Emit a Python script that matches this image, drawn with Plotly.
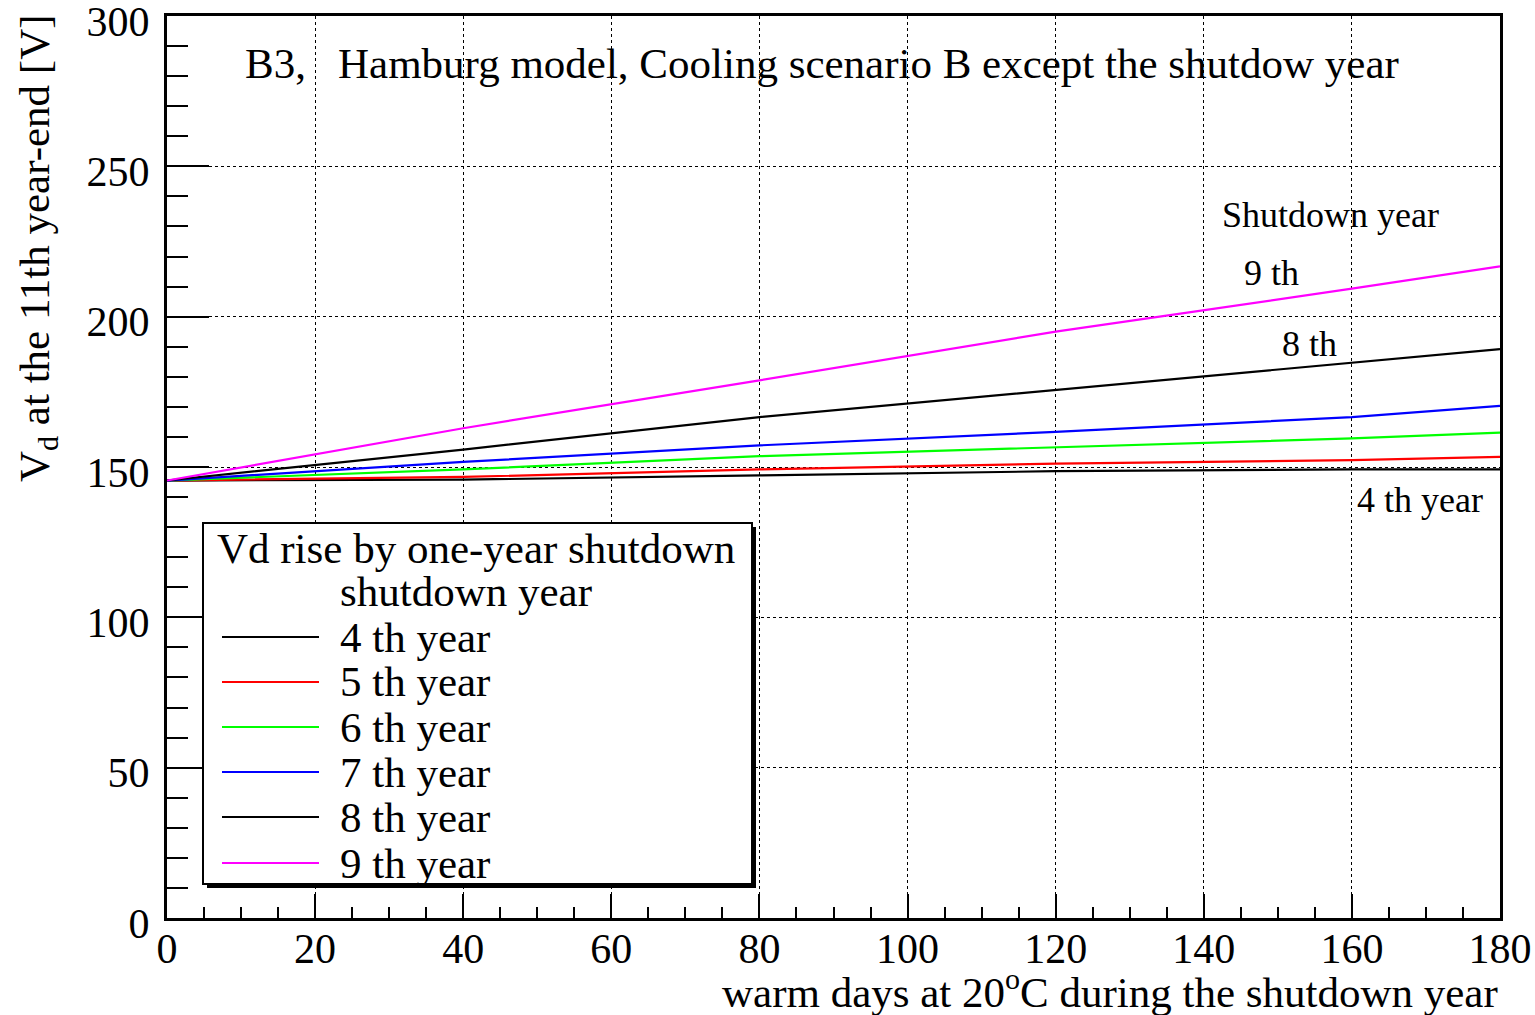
import plotly.graph_objects as go

# Depletion voltage at the end of the 11th year vs. warm days during a one-year shutdown
warm_days = [0, 40, 80, 120, 160, 180]

vd_4th = [145.5, 145.8, 147.2, 148.6, 149.2, 149.2]
vd_5th = [145.5, 146.7, 149.2, 151.1, 152.3, 153.4]
vd_6th = [145.5, 149.2, 153.6, 156.6, 159.5, 161.4]
vd_7th = [145.5, 151.7, 157.2, 161.7, 166.6, 170.3]
vd_8th = [145.5, 155.8, 166.6, 175.6, 184.7, 189.2]
vd_9th = [145.5, 162.9, 178.8, 195.0, 209.3, 216.7]

series_names = ["4 th year", "5 th year", "6 th year", "7 th year", "8 th year", "9 th year"]
series_values = [vd_4th, vd_5th, vd_6th, vd_7th, vd_8th, vd_9th]
series_colors = ["#000000", "#ff0000", "#00ff00", "#0000ff", "#000000", "#ff00ff"]

x_ticks = [0, 20, 40, 60, 80, 100, 120, 140, 160, 180]
y_ticks = [0, 50, 100, 150, 200, 250, 300]

FONT = "Liberation Serif"
W, H = 1535, 1015
ML, MR, MT, MB = 167, 35, 16, 97
PW, PH = W - ML - MR, H - MT - MB


def xp(px):
    return (px - ML) / PW


def yp(py):
    return (H - MB - py) / PH


fig = go.Figure()
for name, vals, col in zip(series_names, series_values, series_colors):
    fig.add_trace(go.Scatter(x=warm_days, y=vals, mode="lines", name=name,
                             line=dict(color=col, width=2.2), showlegend=False))

axis_common = dict(showline=True, linecolor="black", linewidth=3, mirror=True,
                   showgrid=True, gridcolor="black", griddash="dot", gridwidth=1,
                   zeroline=False, automargin=False, ticklabeloverflow="allow",
                   ticks="inside", tickcolor="black", tickwidth=2,
                   tickfont=dict(family=FONT, size=42, color="black"))

fig.update_xaxes(range=[0, 180], tickvals=x_ticks, ticktext=[str(v) for v in x_ticks],
                 ticklen=24, ticklabelstandoff=-8,
                 minor=dict(dtick=5, ticks="inside", ticklen=11,
                            tickcolor="black", tickwidth=2, showgrid=False),
                 **axis_common)
fig.update_yaxes(range=[0, 300], tickvals=y_ticks, ticktext=[str(v) for v in y_ticks],
                 ticklen=42, ticklabelstandoff=6, ticklabelshift=5,
                 minor=dict(dtick=10, ticks="inside", ticklen=21,
                            tickcolor="black", tickwidth=2, showgrid=False),
                 **axis_common)

shapes = []
annotations = []


def text(px, py, s, size, xanchor="left", yanchor="middle", angle=0):
    annotations.append(dict(x=xp(px), y=yp(py), xref="paper", yref="paper", text=s,
                            showarrow=False, xanchor=xanchor, yanchor=yanchor,
                            textangle=angle,
                            font=dict(family=FONT, size=size, color="black")))


# Header text inside the frame
text(243, 63, "B3,", 43)
text(336, 63, "Hamburg model, Cooling scenario B except the shutdow year", 43)

# Curve labels on the right side
text(1220, 215, "Shutdown year", 36)
text(1242, 273, "9 th", 36)
text(1280, 344, "8 th", 36)
text(1355, 500, "4 th year", 36)

# Axis titles
text(1500, 989, "warm days at 20<sup>o</sup>C during the shutdown year", 43, xanchor="right")
text(38, 12, "V<sub>d</sub> at the 11th year-end [V]", 43, xanchor="center",
     yanchor="top", angle=-90)

# Legend box with drop shadow
lx0, ly0, lx1, ly1 = 203, 523, 752, 884
shapes.append(dict(type="rect", xref="paper", yref="paper", layer="above",
                   x0=xp(lx0 + 4), x1=xp(lx1 + 4), y0=yp(ly0 + 4), y1=yp(ly1 + 4),
                   fillcolor="black", line=dict(width=0)))
shapes.append(dict(type="rect", xref="paper", yref="paper", layer="above",
                   x0=xp(lx0), x1=xp(lx1), y0=yp(ly0), y1=yp(ly1),
                   fillcolor="white", line=dict(color="black", width=2)))

text(476, 548, "Vd rise by one-year shutdown", 43, xanchor="center")
text(338, 591, "shutdown year", 43)
row_y = [637, 682, 727, 772, 817, 863]
for ry, name, col in zip(row_y, series_names, series_colors):
    shapes.append(dict(type="line", xref="paper", yref="paper", layer="above",
                       x0=xp(222), x1=xp(319), y0=yp(ry), y1=yp(ry),
                       line=dict(color=col, width=2)))
    text(338, ry, name, 43)

fig.update_layout(width=W, height=H, margin=dict(l=ML, r=MR, t=MT, b=MB),
                  paper_bgcolor="white", plot_bgcolor="white",
                  shapes=shapes, annotations=annotations, showlegend=False,
                  font=dict(family=FONT, color="black"))

fig.write_html("out.html")
